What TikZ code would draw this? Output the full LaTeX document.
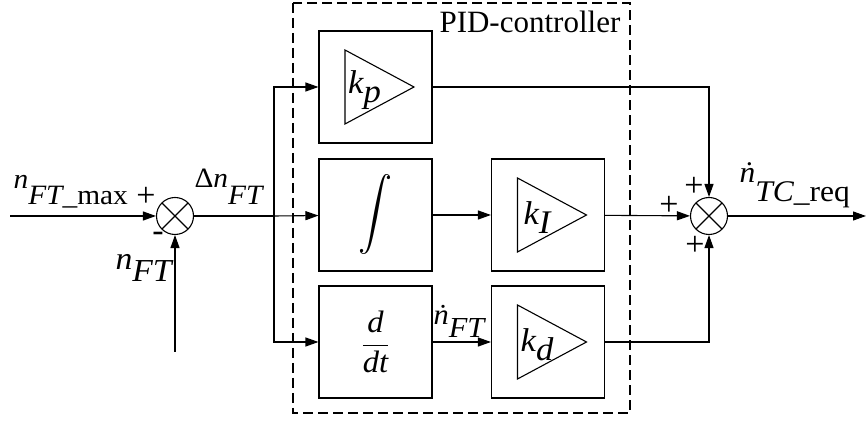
\documentclass[tikz,border=0pt]{standalone}
\usepackage{fontspec}
\setmainfont{Liberation Serif}
\newfontfamily\lblfont{Liberation Serif}[FakeStretch=1.05]
\usetikzlibrary{calc}
\usetikzlibrary{arrows.meta}
\newcommand*{\boxw}{56.5pt}
\newcommand*{\boxh}{56pt}
\newcommand*{\sumd}{18.5pt}
\newcommand*{\fsz}[1]{\fontsize{#1}{#1}\selectfont}
\newcommand*{\vi}[1]{{\lblfont\itshape #1}}
\newcommand*{\vu}[1]{{\lblfont #1}}
\newcommand*{\low}[2][8pt]{\raisebox{-#1}{#2}}

\begin{document}
\begin{tikzpicture}[x=0.5pt, y=-0.5pt, line width=0.55pt,
    blk/.style={draw, minimum width=\boxw, minimum height=\boxh, inner sep=0pt},
    sum/.style={draw, circle, minimum size=\sumd, inner sep=0pt,
        path picture={\draw (path picture bounding box.north west) -- (path picture bounding box.south east)
                            (path picture bounding box.north east) -- (path picture bounding box.south west);}},
    sig/.style={-{Triangle[length=6.5pt, width=4.5pt]}},
    lbl/.style={anchor=base west, inner sep=0pt},
    sgn/.style={inner sep=0pt, font=\fsz{17}}]
    \useasboundingbox (0,0) rectangle (867,421);

    % controller frame
    \draw [dash pattern=on 5pt off 2.5pt] (293,3) rectangle (630,413);
    \node [lbl, font=\fsz{15.5}] (pid) at (439,33) {PID-controller};

    % summing points
    \node [sum] (s1) at (175,216) {};
    \node [sum] (s2) at (709,216) {};

    % blocks
    \node [blk] (kp)  at (375.5,87)  {};
    \node [blk] (int) at (375.5,215) {\scalebox{1.7}[1.8]{$\displaystyle\int$}};
    \node [blk] (kI)  at (548,215)   {};
    \node [blk] (dt)  at (375.5,342) {\fsz{15.5}$\displaystyle\frac{\mbox{\vi{d}}}{\mbox{\vi{dt}}}$};
    \node [blk] (kd)  at (548,342)   {};

    % gain triangles
    \foreach \g/\s in {kp/p, kI/I, kd/d}{
        \draw ([shift={(-30.5,-37)}]\g.center) -- ([shift={(38.5,0)}]\g.center)
              -- ([shift={(-30.5,37)}]\g.center) -- cycle;
        \node [inner sep=0pt, font=\fsz{16.5}] (l\g) at ([shift={(-11,3)}]\g.center) {\vi{k}\low[4.5pt]{\vi{\s}}};
    }

    % signals
    \coordinate (in)  at (10,216);
    \coordinate (fb)  at (175,352);
    \coordinate (br)  at (274,216);
    \coordinate (out) at (866,216);

    \draw [sig] (in) -- (s1);
    \draw [sig] (fb) -- (s1);
    \draw (s1) -- (br);
    \draw [sig] (br) -- (int);
    \draw [sig] (br) |- (kp);
    \draw [sig] (br) |- (dt);
    \draw [sig] (int) -- (kI);
    \draw [sig] (dt) -- (kd);
    \draw [sig] (kp) -| (s2);
    \draw [sig] (kI) -- (s2);
    \draw [sig] (kd) -| (s2);
    \draw [sig] (s2) -- (out);

    % labels
    \node [lbl, font=\fsz{14}] (nmax) at (13,189)  {\vi{n}\low[8pt]{\vi{FT}\vu{\_max}}};
    \node [lbl, font=\fsz{14}] (dn)   at (194,188) {\vu{Δ}\vi{n}\low[8.5pt]{\vi{FT}}};
    \node [lbl, font=\fsz{16}] (nft)  at (115,270) {\vi{n}\low[6pt]{\vi{FT}}};
    \node [lbl, font=\fsz{14.5}] (dnft) at (433,325) {\vi{\.n}\low[6.5pt]{\vi{FT}}};
    \node [lbl, font=\fsz{15}] (ntc)  at (739,183) {\vi{\.n}\low[9.5pt]{\vi{TC}\vu{\_req}}};

    \node [sgn] (p1) at (146,197) {+};
    \node [sgn] (m1) at (158,237) {-};
    \node [sgn] (p2) at (694,187) {+};
    \node [sgn] (p3) at (669,206) {+};
    \node [sgn] (p4) at (695,246) {+};
\end{tikzpicture}
\end{document}
